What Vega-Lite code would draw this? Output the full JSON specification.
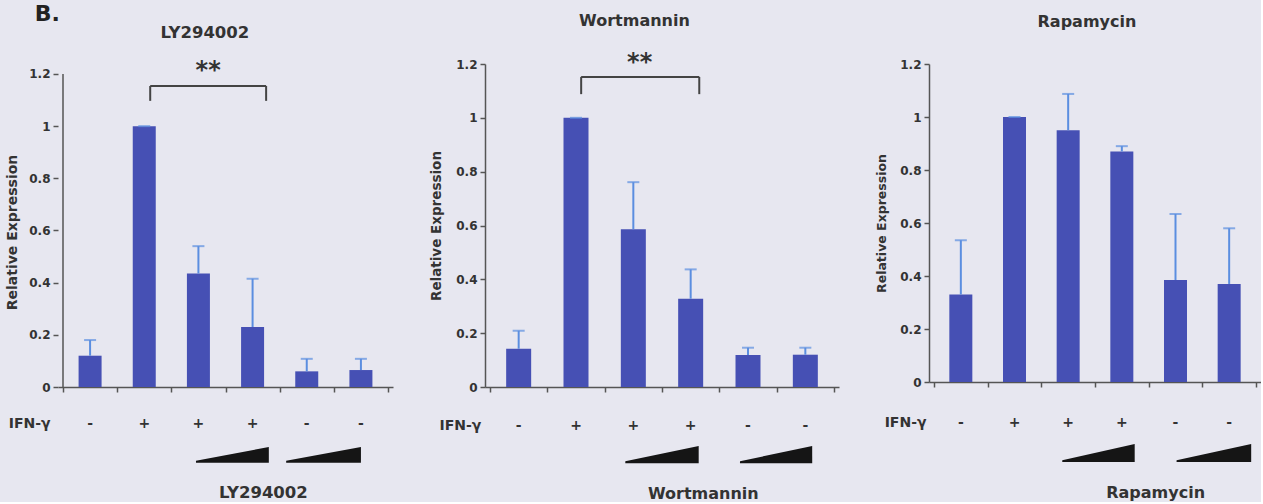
{
  "$schema": "https://vega.github.io/schema/vega-lite/v6.json",
  "background": "#e7e7f0",
  "padding": {"left": 5, "top": 2, "right": 0, "bottom": 0},
  "spacing": 36,
  "config": {
    "view": {"stroke": null},
    "font": "DejaVu Sans",
    "text": {"font": "DejaVu Sans", "fontWeight": "bold", "color": "#333"},
    "axisY": {"format": "~g", "grid": false, "tickSize": 5, "tickColor": "#555", "tickWidth": 1.5, "domainColor": "#555", "domainWidth": 1.5, "labelFont": "DejaVu Sans", "labelFontWeight": "bold", "labelFontSize": 12, "labelColor": "#333", "labelPadding": 3, "titleFont": "DejaVu Sans", "titleFontWeight": "bold", "titleColor": "#333", "titleBaseline": "middle"},
    "axisX": {"labels": false, "grid": false, "tickSize": 5, "tickColor": "#555", "tickWidth": 1.5, "domainColor": "#555", "domainWidth": 1.5}
  },
  "datasets": {
    "bars": [
      {"panel": "LY294002", "i": 1, "sign": "-", "value": 0.12, "err": 0.18},
      {"panel": "LY294002", "i": 2, "sign": "+", "value": 1.0, "err": 1.0},
      {"panel": "LY294002", "i": 3, "sign": "+", "value": 0.435, "err": 0.54},
      {"panel": "LY294002", "i": 4, "sign": "+", "value": 0.23, "err": 0.415},
      {"panel": "LY294002", "i": 5, "sign": "-", "value": 0.06, "err": 0.108},
      {"panel": "LY294002", "i": 6, "sign": "-", "value": 0.065, "err": 0.108},
      {"panel": "Wortmannin", "i": 1, "sign": "-", "value": 0.142, "err": 0.209},
      {"panel": "Wortmannin", "i": 2, "sign": "+", "value": 1.0, "err": 1.0},
      {"panel": "Wortmannin", "i": 3, "sign": "+", "value": 0.586, "err": 0.761},
      {"panel": "Wortmannin", "i": 4, "sign": "+", "value": 0.328, "err": 0.437},
      {"panel": "Wortmannin", "i": 5, "sign": "-", "value": 0.119, "err": 0.146},
      {"panel": "Wortmannin", "i": 6, "sign": "-", "value": 0.12, "err": 0.146},
      {"panel": "Rapamycin", "i": 1, "sign": "-", "value": 0.33, "err": 0.535},
      {"panel": "Rapamycin", "i": 2, "sign": "+", "value": 1.0, "err": 1.0},
      {"panel": "Rapamycin", "i": 3, "sign": "+", "value": 0.95, "err": 1.087},
      {"panel": "Rapamycin", "i": 4, "sign": "+", "value": 0.87, "err": 0.89},
      {"panel": "Rapamycin", "i": 5, "sign": "-", "value": 0.385, "err": 0.634},
      {"panel": "Rapamycin", "i": 6, "sign": "-", "value": 0.37, "err": 0.58}
    ],
    "brackets": [
      {"panel": "LY294002", "from": 2.11, "to": 4.25, "label": "**"},
      {"panel": "Wortmannin", "from": 2.09, "to": 4.15, "label": "**"}
    ],
    "labels": [
      {"panel": "LY294002", "kind": "fig", "text": "B."},
      {"panel": "LY294002", "kind": "title", "text": "LY294002"},
      {"panel": "LY294002", "kind": "drug", "text": "LY294002"},
      {"panel": "LY294002", "kind": "ifn", "text": "IFN-γ"},
      {"panel": "Wortmannin", "kind": "title", "text": "Wortmannin"},
      {"panel": "Wortmannin", "kind": "drug", "text": "Wortmannin"},
      {"panel": "Wortmannin", "kind": "ifn", "text": "IFN-γ"},
      {"panel": "Rapamycin", "kind": "title", "text": "Rapamycin"},
      {"panel": "Rapamycin", "kind": "drug", "text": "Rapamycin"},
      {"panel": "Rapamycin", "kind": "ifn", "text": "IFN-γ"}
    ],
    "wedges": [
      {"panel": "LY294002", "group": "IFN+", "x": 2.955, "top": -0.283},
      {"panel": "LY294002", "group": "IFN+", "x": 4.3, "top": -0.23},
      {"panel": "LY294002", "group": "IFN-", "x": 4.62, "top": -0.283},
      {"panel": "LY294002", "group": "IFN-", "x": 6.0, "top": -0.23},
      {"panel": "Wortmannin", "group": "IFN+", "x": 2.86, "top": -0.276},
      {"panel": "Wortmannin", "group": "IFN+", "x": 4.14, "top": -0.219},
      {"panel": "Wortmannin", "group": "IFN-", "x": 4.86, "top": -0.276},
      {"panel": "Wortmannin", "group": "IFN-", "x": 6.12, "top": -0.219},
      {"panel": "Rapamycin", "group": "IFN+", "x": 2.89, "top": -0.295},
      {"panel": "Rapamycin", "group": "IFN+", "x": 4.24, "top": -0.234},
      {"panel": "Rapamycin", "group": "IFN-", "x": 5.02, "top": -0.295},
      {"panel": "Rapamycin", "group": "IFN-", "x": 6.41, "top": -0.234}
    ]
  },
  "hconcat": [
    {
      "width": 335, "height": 323,
      "layer": [
        {"data": {"name": "bars"}, "transform": [{"filter": "datum.panel === 'LY294002'"}],
         "mark": {"type": "bar", "size": 23, "color": "#4650b4"},
         "encoding": {
           "x": {"field": "i", "type": "quantitative", "scale": {"domain": [0.5, 6.5], "nice": false, "zero": false}, "axis": {"title": null, "values": [0.5, 1.5, 2.5, 3.5, 4.5, 5.5, 6.5]}},
           "y": {"field": "value", "type": "quantitative", "title": "Relative Expression", "scale": {"domain": [0, 1.2383], "nice": false}, "axis": {"values": [0, 0.2, 0.4, 0.6, 0.8, 1, 1.2], "domain": false, "titleFontSize": 14, "titleX": -46, "titleY": 168}}}},
        {"data": {"values": [{"axis": "y"}]},
         "mark": {"type": "rule", "color": "#555", "strokeWidth": 1.5},
         "encoding": {"x": {"datum": 0.5}, "y": {"datum": 0}, "y2": {"datum": 1.2}}},
        {"data": {"name": "bars"}, "transform": [{"filter": "datum.panel === 'LY294002'"}],
         "mark": {"type": "rule", "color": "#5b8ee0", "strokeWidth": 2},
         "encoding": {"x": {"field": "i", "type": "quantitative", "title": null}, "y": {"field": "value", "type": "quantitative", "title": "Relative Expression"}, "y2": {"field": "err"}}},
        {"data": {"name": "bars"}, "transform": [{"filter": "datum.panel === 'LY294002'"}],
         "mark": {"type": "tick", "orient": "horizontal", "color": "#5b8ee0", "size": 12, "thickness": 2},
         "encoding": {"x": {"field": "i", "type": "quantitative", "title": null}, "y": {"field": "err", "type": "quantitative", "title": "Relative Expression"}}},
        {"data": {"name": "bars"}, "transform": [{"filter": "datum.panel === 'LY294002'"}],
         "mark": {"type": "text", "fontSize": 14, "baseline": "middle"},
         "encoding": {"x": {"field": "i", "type": "quantitative", "title": null}, "y": {"datum": -0.142}, "text": {"field": "sign"}}},
        {"data": {"name": "labels"}, "transform": [{"filter": "datum.panel === 'LY294002' && datum.kind === 'ifn'"}],
         "mark": {"type": "text", "fontSize": 14, "align": "right", "baseline": "middle"},
         "encoding": {"x": {"datum": 0.27}, "y": {"datum": -0.142}, "text": {"field": "text"}}},
        {"data": {"name": "labels"}, "transform": [{"filter": "datum.panel === 'LY294002' && datum.kind === 'title'"}],
         "mark": {"type": "text", "fontSize": 16.5, "baseline": "middle"},
         "encoding": {"x": {"datum": 3.12}, "y": {"datum": 1.357}, "text": {"field": "text"}}},
        {"data": {"name": "labels"}, "transform": [{"filter": "datum.panel === 'LY294002' && datum.kind === 'drug'"}],
         "mark": {"type": "text", "fontSize": 16.5, "baseline": "middle"},
         "encoding": {"x": {"datum": 4.2}, "y": {"datum": -0.406}, "text": {"field": "text"}}},
        {"data": {"name": "labels"}, "transform": [{"filter": "datum.panel === 'LY294002' && datum.kind === 'fig'"}],
         "mark": {"type": "text", "fontSize": 22, "baseline": "middle", "color": "#222"},
         "encoding": {"x": {"datum": 0.21}, "y": {"datum": 1.43}, "text": {"field": "text"}}},
        {"data": {"name": "wedges"}, "transform": [{"filter": "datum.panel === 'LY294002'"}],
         "mark": {"type": "area", "color": "#151515"},
         "encoding": {"x": {"field": "x", "type": "quantitative", "title": null}, "y": {"field": "top", "type": "quantitative", "title": "Relative Expression"}, "y2": {"datum": -0.29}, "detail": {"field": "group"}}},
        {"data": {"name": "brackets"}, "transform": [{"filter": "datum.panel === 'LY294002'"}],
         "mark": {"type": "rule", "color": "#444", "strokeWidth": 2},
         "encoding": {"x": {"field": "from", "type": "quantitative", "title": null}, "x2": {"field": "to"}, "y": {"datum": 1.154}}},
        {"data": {"name": "brackets"}, "transform": [{"filter": "datum.panel === 'LY294002'"}],
         "mark": {"type": "rule", "color": "#444", "strokeWidth": 2},
         "encoding": {"x": {"field": "from", "type": "quantitative", "title": null}, "y": {"datum": 1.154}, "y2": {"datum": 1.097}}},
        {"data": {"name": "brackets"}, "transform": [{"filter": "datum.panel === 'LY294002'"}],
         "mark": {"type": "rule", "color": "#444", "strokeWidth": 2},
         "encoding": {"x": {"field": "to", "type": "quantitative", "title": null}, "y": {"datum": 1.154}, "y2": {"datum": 1.097}}},
        {"data": {"name": "brackets"}, "transform": [{"filter": "datum.panel === 'LY294002'"}],
         "mark": {"type": "text", "fontSize": 24, "baseline": "alphabetic"},
         "encoding": {"x": {"datum": 3.18}, "y": {"datum": 1.186}, "text": {"field": "label"}}}
      ]
    },
    {
      "width": 354, "height": 323,
      "layer": [
        {"data": {"name": "bars"}, "transform": [{"filter": "datum.panel === 'Wortmannin'"}],
         "mark": {"type": "bar", "size": 25, "color": "#4650b4"},
         "encoding": {
           "x": {"field": "i", "type": "quantitative", "scale": {"domain": [0.5, 6.5], "nice": false, "zero": false}, "axis": {"title": null, "values": [0.5, 1.5, 2.5, 3.5, 4.5, 5.5, 6.5]}},
           "y": {"field": "value", "type": "quantitative", "title": "Relative Expression", "scale": {"domain": [0, 1.2], "nice": false}, "axis": {"values": [0, 0.2, 0.4, 0.6, 0.8, 1, 1.2], "titleFontSize": 13.5, "titleX": -49}}}},
        {"data": {"name": "bars"}, "transform": [{"filter": "datum.panel === 'Wortmannin'"}],
         "mark": {"type": "rule", "color": "#5b8ee0", "strokeWidth": 2},
         "encoding": {"x": {"field": "i", "type": "quantitative", "title": null}, "y": {"field": "value", "type": "quantitative", "title": "Relative Expression"}, "y2": {"field": "err"}}},
        {"data": {"name": "bars"}, "transform": [{"filter": "datum.panel === 'Wortmannin'"}],
         "mark": {"type": "tick", "orient": "horizontal", "color": "#5b8ee0", "size": 12, "thickness": 2},
         "encoding": {"x": {"field": "i", "type": "quantitative", "title": null}, "y": {"field": "err", "type": "quantitative", "title": "Relative Expression"}}},
        {"data": {"name": "bars"}, "transform": [{"filter": "datum.panel === 'Wortmannin'"}],
         "mark": {"type": "text", "fontSize": 14, "baseline": "middle"},
         "encoding": {"x": {"field": "i", "type": "quantitative", "title": null}, "y": {"datum": -0.145}, "text": {"field": "sign"}}},
        {"data": {"name": "labels"}, "transform": [{"filter": "datum.panel === 'Wortmannin' && datum.kind === 'ifn'"}],
         "mark": {"type": "text", "fontSize": 14, "align": "right", "baseline": "middle"},
         "encoding": {"x": {"datum": 0.35}, "y": {"datum": -0.145}, "text": {"field": "text"}}},
        {"data": {"name": "labels"}, "transform": [{"filter": "datum.panel === 'Wortmannin' && datum.kind === 'title'"}],
         "mark": {"type": "text", "fontSize": 16, "baseline": "middle"},
         "encoding": {"x": {"datum": 3.02}, "y": {"datum": 1.36}, "text": {"field": "text"}}},
        {"data": {"name": "labels"}, "transform": [{"filter": "datum.panel === 'Wortmannin' && datum.kind === 'drug'"}],
         "mark": {"type": "text", "fontSize": 16, "baseline": "middle"},
         "encoding": {"x": {"datum": 4.22}, "y": {"datum": -0.397}, "text": {"field": "text"}}},
        {"data": {"name": "wedges"}, "transform": [{"filter": "datum.panel === 'Wortmannin'"}],
         "mark": {"type": "area", "color": "#151515"},
         "encoding": {"x": {"field": "x", "type": "quantitative", "title": null}, "y": {"field": "top", "type": "quantitative", "title": "Relative Expression"}, "y2": {"datum": -0.283}, "detail": {"field": "group"}}},
        {"data": {"name": "brackets"}, "transform": [{"filter": "datum.panel === 'Wortmannin'"}],
         "mark": {"type": "rule", "color": "#444", "strokeWidth": 2},
         "encoding": {"x": {"field": "from", "type": "quantitative", "title": null}, "x2": {"field": "to"}, "y": {"datum": 1.152}}},
        {"data": {"name": "brackets"}, "transform": [{"filter": "datum.panel === 'Wortmannin'"}],
         "mark": {"type": "rule", "color": "#444", "strokeWidth": 2},
         "encoding": {"x": {"field": "from", "type": "quantitative", "title": null}, "y": {"datum": 1.152}, "y2": {"datum": 1.088}}},
        {"data": {"name": "brackets"}, "transform": [{"filter": "datum.panel === 'Wortmannin'"}],
         "mark": {"type": "rule", "color": "#444", "strokeWidth": 2},
         "encoding": {"x": {"field": "to", "type": "quantitative", "title": null}, "y": {"datum": 1.152}, "y2": {"datum": 1.088}}},
        {"data": {"name": "brackets"}, "transform": [{"filter": "datum.panel === 'Wortmannin'"}],
         "mark": {"type": "text", "fontSize": 24, "baseline": "alphabetic"},
         "encoding": {"x": {"datum": 3.11}, "y": {"datum": 1.179}, "text": {"field": "label"}}}
      ]
    },
    {
      "width": 332, "height": 318,
      "layer": [
        {"data": {"name": "bars"}, "transform": [{"filter": "datum.panel === 'Rapamycin'"}],
         "mark": {"type": "bar", "size": 23, "color": "#4650b4"},
         "encoding": {
           "x": {"field": "i", "type": "quantitative", "scale": {"domain": [0.5, 6.5], "nice": false, "zero": false}, "axis": {"title": null, "values": [0.5, 1.5, 2.5, 3.5, 4.5, 5.5, 6.5]}},
           "y": {"field": "value", "type": "quantitative", "title": "Relative Expression", "scale": {"domain": [0, 1.2], "nice": false}, "axis": {"values": [0, 0.2, 0.4, 0.6, 0.8, 1, 1.2], "titleFontSize": 12.5, "titleX": -48}}}},
        {"data": {"name": "bars"}, "transform": [{"filter": "datum.panel === 'Rapamycin'"}],
         "mark": {"type": "rule", "color": "#5b8ee0", "strokeWidth": 2},
         "encoding": {"x": {"field": "i", "type": "quantitative", "title": null}, "y": {"field": "value", "type": "quantitative", "title": "Relative Expression"}, "y2": {"field": "err"}}},
        {"data": {"name": "bars"}, "transform": [{"filter": "datum.panel === 'Rapamycin'"}],
         "mark": {"type": "tick", "orient": "horizontal", "color": "#5b8ee0", "size": 12, "thickness": 2},
         "encoding": {"x": {"field": "i", "type": "quantitative", "title": null}, "y": {"field": "err", "type": "quantitative", "title": "Relative Expression"}}},
        {"data": {"name": "bars"}, "transform": [{"filter": "datum.panel === 'Rapamycin'"}],
         "mark": {"type": "text", "fontSize": 14, "baseline": "middle"},
         "encoding": {"x": {"field": "i", "type": "quantitative", "title": null}, "y": {"datum": -0.155}, "text": {"field": "sign"}}},
        {"data": {"name": "labels"}, "transform": [{"filter": "datum.panel === 'Rapamycin' && datum.kind === 'ifn'"}],
         "mark": {"type": "text", "fontSize": 14, "align": "right", "baseline": "middle"},
         "encoding": {"x": {"datum": 0.36}, "y": {"datum": -0.155}, "text": {"field": "text"}}},
        {"data": {"name": "labels"}, "transform": [{"filter": "datum.panel === 'Rapamycin' && datum.kind === 'title'"}],
         "mark": {"type": "text", "fontSize": 16, "baseline": "middle"},
         "encoding": {"x": {"datum": 3.35}, "y": {"datum": 1.358}, "text": {"field": "text"}}},
        {"data": {"name": "labels"}, "transform": [{"filter": "datum.panel === 'Rapamycin' && datum.kind === 'drug'"}],
         "mark": {"type": "text", "fontSize": 16, "baseline": "middle"},
         "encoding": {"x": {"datum": 4.63}, "y": {"datum": -0.419}, "text": {"field": "text"}}},
        {"data": {"name": "wedges"}, "transform": [{"filter": "datum.panel === 'Rapamycin'"}],
         "mark": {"type": "area", "color": "#151515"},
         "encoding": {"x": {"field": "x", "type": "quantitative", "title": null}, "y": {"field": "top", "type": "quantitative", "title": "Relative Expression"}, "y2": {"datum": -0.302}, "detail": {"field": "group"}}}
      ]
    }
  ]
}
